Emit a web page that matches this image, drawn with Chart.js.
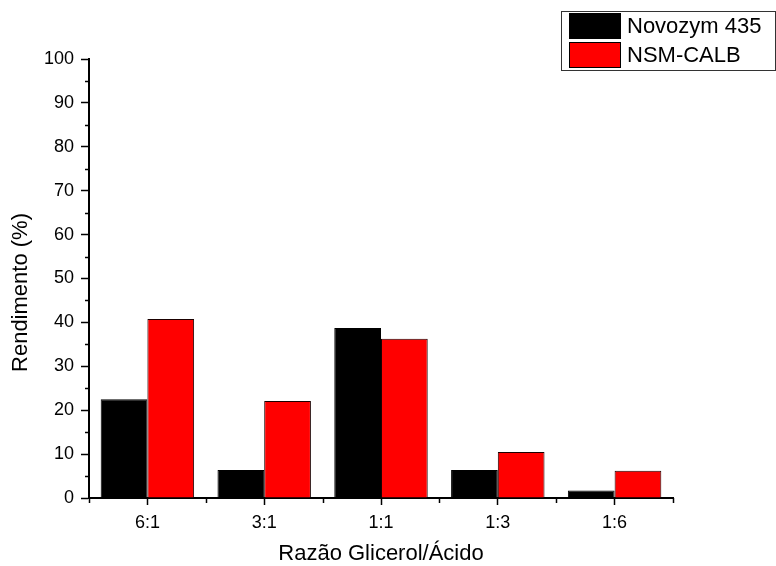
<!DOCTYPE html>
<html>
<head>
<meta charset="utf-8">
<script src="https://cdn.jsdelivr.net/npm/chart.js@4.4.1/dist/chart.umd.min.js"></script>
<style>
  html, body { margin: 0; padding: 0; background: #fff; }
  #wrap { width: 776px; height: 566px; }
</style>
</head>
<body>
<div id="wrap"><canvas id="c" width="776" height="566"></canvas></div>
<script>
// Glycerol / acid molar ratios tested
const ratios = ['6:1', '3:1', '1:1', '1:3', '1:6'];
// Yield (%) per enzyme preparation
const novozym435 = [22.5, 6.4, 38.7, 6.4, 1.7];
const nsmCalb = [40.8, 22.1, 36.3, 10.5, 6.2];
const seriesNames = ['Novozym 435', 'NSM-CALB'];
// Y axis range and major step
const yMin = 0, yMax = 100, yStep = 10;
const yTitle = 'Rendimento (%)';
const xTitle = 'Razão Glicerol/Ácido';

const FONT = "'Liberation Sans', Arial, sans-serif";

// Minor ticks on both axes, the y title and a boxed legend in the top-right corner
const decorations = {
  id: 'decorations',
  afterDraw(chart) {
    const ctx = chart.ctx;
    const x = chart.scales.x, y = chart.scales.y;
    ctx.save();
    ctx.strokeStyle = '#000';
    ctx.lineWidth = 1.5;
    // y minor ticks at half steps
    for (let v = yMin + yStep / 2; v < yMax; v += yStep) {
      const py = Math.round(y.getPixelForValue(v)) + 0.5;
      ctx.beginPath();
      ctx.moveTo(x.left - 4, py);
      ctx.lineTo(x.left, py);
      ctx.stroke();
    }
    // x minor ticks at category boundaries
    for (let i = 0; i <= ratios.length; i++) {
      const px = Math.round(x.getPixelForValue(i - 0.5)) + 0.5;
      ctx.beginPath();
      ctx.moveTo(px, y.bottom);
      ctx.lineTo(px, y.bottom + 5);
      ctx.stroke();
    }
    // y axis title, set a little below the axis midpoint
    ctx.save();
    ctx.translate(27, (y.top + y.bottom) / 2 + 14);
    ctx.rotate(-Math.PI / 2);
    ctx.font = '22px ' + FONT;
    ctx.fillStyle = '#000';
    ctx.textAlign = 'center';
    ctx.textBaseline = 'alphabetic';
    ctx.fillText(yTitle, 0, 0);
    ctx.restore();
    // legend
    const lx = 561, ly = 11, lw = 214, lh = 59;
    ctx.lineWidth = 1;
    ctx.strokeStyle = '#333';
    ctx.strokeRect(lx + 0.5, ly + 0.5, lw, lh);
    ctx.font = '22px ' + FONT;
    ctx.textBaseline = 'middle';
    ctx.textAlign = 'left';
    chart.data.datasets.forEach((ds, i) => {
      const ry = ly + 2 + i * 29;
      ctx.fillStyle = ds.backgroundColor;
      ctx.fillRect(569, ry, 52, 26);
      ctx.strokeStyle = '#000';
      ctx.strokeRect(569.5, ry + 0.5, 51, 25);
      ctx.fillStyle = '#000';
      ctx.fillText(ds.label, 627, ry + 14);
    });
    ctx.restore();
  }
};

new Chart(document.getElementById('c'), {
  type: 'bar',
  data: {
    labels: ratios,
    datasets: [
      { label: seriesNames[0], data: novozym435, backgroundColor: '#000000', borderColor: '#000000', borderWidth: 1 },
      { label: seriesNames[1], data: nsmCalb, backgroundColor: '#ff0000', borderColor: '#1a0000', borderWidth: 1 }
    ]
  },
  options: {
    responsive: false,
    animation: false,
    devicePixelRatio: 1,
    layout: { padding: { left: 0, right: 103, top: 59, bottom: 0 } },
    plugins: { legend: { display: false }, tooltip: { enabled: false } },
    datasets: { bar: { categoryPercentage: 0.8, barPercentage: 1.0 } },
    scales: {
      x: {
        offset: true,
        afterFit(s) { s.height = 68; },
        grid: { display: true, drawOnChartArea: false, drawTicks: true, offset: false, tickLength: 7, tickWidth: 1.5, tickColor: '#000' },
        border: { display: true, color: '#000', width: 2 },
        ticks: { color: '#000', font: { family: FONT, size: 18 }, padding: 7, maxRotation: 0 },
        title: { display: true, text: xTitle, color: '#000', font: { family: FONT, size: 22 }, padding: { top: 0, bottom: -1 } }
      },
      y: {
        min: yMin, max: yMax,
        afterFit(s) { s.width = 89; },
        grid: { display: true, drawOnChartArea: false, drawTicks: true, tickLength: 8, tickWidth: 1.5, tickColor: '#000' },
        border: { display: true, color: '#000', width: 2 },
        ticks: { stepSize: yStep, color: '#000', font: { family: FONT, size: 18 }, padding: 7 },
        title: { display: false }
      }
    }
  },
  plugins: [decorations]
});
</script>
</body>
</html>
